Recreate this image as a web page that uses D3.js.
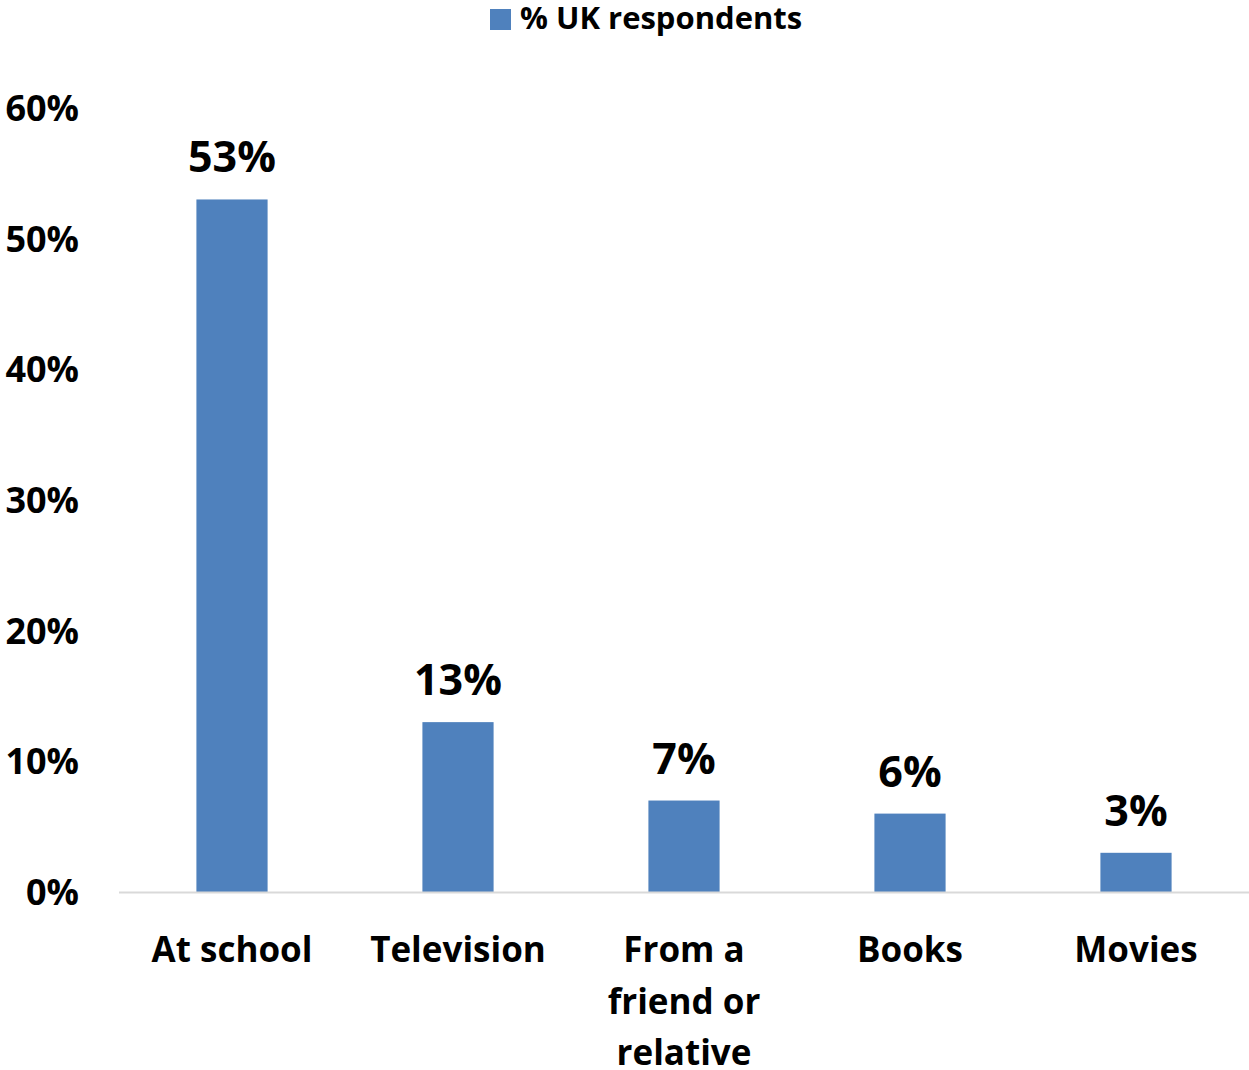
<!DOCTYPE html>
<html>
<head>
<meta charset="utf-8">
<script src="https://cdn.jsdelivr.net/npm/d3@7"></script>
<style>
  body { margin: 0; background: #fff; }
  svg text { font-family: "Open Sans", Lato, sans-serif; font-weight: bold; fill: #000; }
</style>
</head>
<body>
<svg id="chart" width="1249" height="1070"></svg>
<script>
var categories = [["At school"], ["Television"], ["From a", "friend or", "relative"], ["Books"], ["Movies"]];
var values = [53, 13, 7, 6, 3];
var yTicks = [0, 10, 20, 30, 40, 50, 60];
var seriesName = "% UK respondents";

var svg = d3.select("#chart"),
    margin = { top: 108, right: 0, bottom: 178, left: 119 },
    width = +svg.attr("width") - margin.left - margin.right,
    height = +svg.attr("height") - margin.top - margin.bottom;

var color = "#4f81bd";

var x = d3.scaleBand()
    .domain(d3.range(values.length))
    .range([0, width])
    .paddingInner(0.685)
    .paddingOuter(0.3425);

var y = d3.scaleLinear().domain([0, 60]).range([height, 0]);

var g = svg.append("g")
    .attr("transform", "translate(" + margin.left + "," + margin.top + ")");

// y labels
g.selectAll(".ytick")
    .data(yTicks)
    .enter().append("text")
    .attr("class", "ytick")
    .attr("x", -40)
    .attr("y", function (d) { return y(d) + 13; })
    .attr("text-anchor", "end")
    .style("font-size", "36px")
    .text(function (d) { return d + "%"; });

// bars
g.selectAll(".bar")
    .data(values)
    .enter().append("rect")
    .attr("class", "bar")
    .attr("x", function (d, i) { return x(i); })
    .attr("y", function (d) { return y(d); })
    .attr("width", x.bandwidth())
    .attr("height", function (d) { return height - y(d); })
    .attr("fill", color);

// axis line
g.append("line")
    .attr("x1", 0).attr("x2", width)
    .attr("y1", height + 0.5).attr("y2", height + 0.5)
    .attr("stroke", "#d9d9d9")
    .attr("stroke-width", 2);

// data labels
g.selectAll(".lbl")
    .data(values)
    .enter().append("text")
    .attr("class", "lbl")
    .attr("x", function (d, i) { return x(i) + x.bandwidth() / 2; })
    .attr("y", function (d) { return y(d) - 27; })
    .attr("text-anchor", "middle")
    .style("font-size", "43px")
    .text(function (d) { return d + "%"; });

// category labels
var cat = g.selectAll(".cat")
    .data(categories)
    .enter().append("text")
    .attr("class", "cat")
    .attr("text-anchor", "middle")
    .attr("transform", function (d, i) {
        return "translate(" + (x(i) + x.bandwidth() / 2) + "," + (height + 70) + ")";
    })
    .style("font-size", "35px");
cat.selectAll("tspan")
    .data(function (d) { return d; })
    .enter().append("tspan")
    .attr("x", 0)
    .attr("y", function (d, i) { return i * 51.5; })
    .text(function (d) { return d; });

// legend
var leg = svg.append("g").attr("transform", "translate(490,9)");
leg.append("rect").attr("width", 21).attr("height", 21).attr("fill", color);
leg.append("text")
    .attr("x", 30)
    .attr("y", 20)
    .style("font-size", "31px")
    .text(seriesName);
</script>
</body>
</html>
